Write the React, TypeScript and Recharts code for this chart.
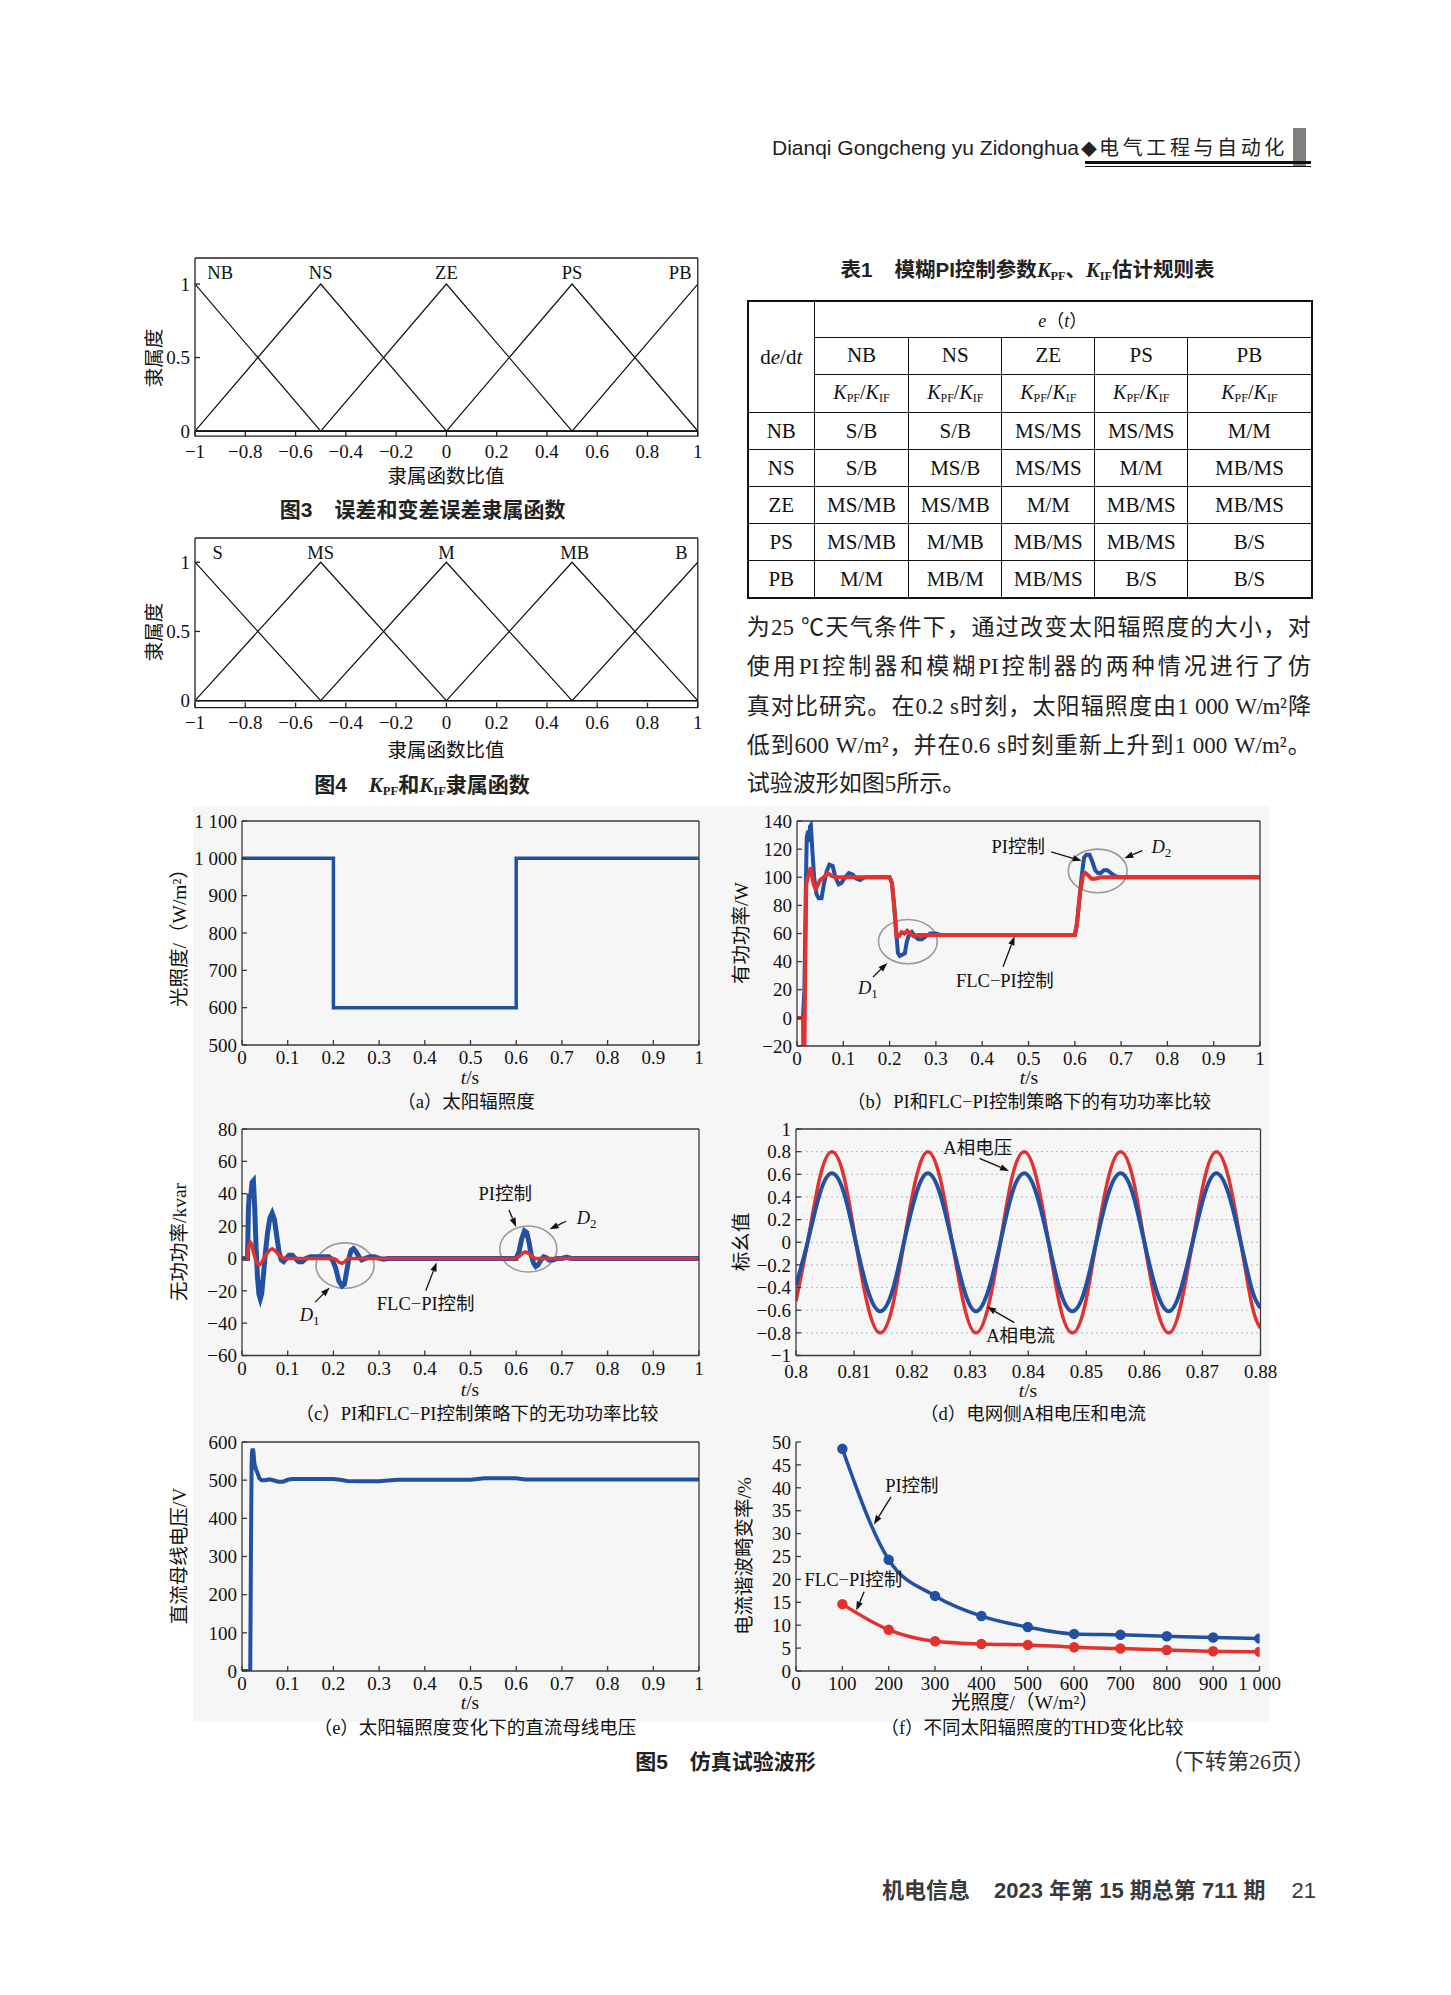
import React from 'react';
import {
  LineChart,
  Line,
  XAxis,
  YAxis,
  CartesianGrid,
  ReferenceLine,
  ReferenceDot,
  ReferenceArea,
} from 'recharts';

const SERIF = '"Liberation Serif", "Noto Sans CJK SC", serif';
const SANS = '"Liberation Sans", "Noto Sans CJK SC", sans-serif';
const BLUE = '#2250a2';
const RED = '#e3312e';

// ---- Fig.3 / Fig.4 membership functions
const mfX = [-1, -0.5, 0, 0.5, 1];
const errNB = [1, 0, 0, 0, 0];
const errNS = [0, 1, 0, 0, 0];
const errZE = [0, 0, 1, 0, 0];
const errPS = [0, 0, 0, 1, 0];
const errPB = [0, 0, 0, 0, 1];
const errNames = ['NB', 'NS', 'ZE', 'PS', 'PB'];
const gainS = [1, 0, 0, 0, 0];
const gainMS = [0, 1, 0, 0, 0];
const gainM = [0, 0, 1, 0, 0];
const gainMB = [0, 0, 0, 1, 0];
const gainB = [0, 0, 0, 0, 1];
const gainNames = ['S', 'MS', 'M', 'MB', 'B'];
const mfTicksX = [-1, -0.8, -0.6, -0.4, -0.2, 0, 0.2, 0.4, 0.6, 0.8, 1];
const mfTicksY = [0, 0.5, 1];

// ---- Table 1
const tableCols = ['NB', 'NS', 'ZE', 'PS', 'PB'];
const tableRows = ['NB', 'NS', 'ZE', 'PS', 'PB'];
const tableRules = [
  ['S/B', 'S/B', 'MS/MS', 'MS/MS', 'M/M'],
  ['S/B', 'MS/B', 'MS/MS', 'M/M', 'MB/MS'],
  ['MS/MB', 'MS/MB', 'M/M', 'MB/MS', 'MB/MS'],
  ['MS/MB', 'M/MB', 'MB/MS', 'MB/MS', 'B/S'],
  ['M/M', 'MB/M', 'MB/MS', 'B/S', 'B/S'],
];
const paragraph = [
  '为25 ℃天气条件下，通过改变太阳辐照度的大小，对',
  '使用PI控制器和模糊PI控制器的两种情况进行了仿',
  '真对比研究。在0.2 s时刻，太阳辐照度由1 000 W/m²降',
  '低到600 W/m²，并在0.6 s时刻重新上升到1 000 W/m²。',
  '试验波形如图5所示。',
];

// ---- Fig.5 (a) irradiance
const irradiance: [number, number][] = [[0, 1000], [0.2, 1000], [0.2, 600], [0.6, 600], [0.6, 1000], [1, 1000]];

// ---- Fig.5 (b) active power
const activePI: [number, number][] = [
  [0, 0], [0.013, 0], [0.016, 20], [0.019, 90], [0.021, 128], [0.024, 133], [0.026, 125], [0.028, 136], [0.03, 137],
  [0.033, 120], [0.037, 100], [0.042, 88], [0.047, 85], [0.053, 85], [0.058, 95], [0.064, 104], [0.07, 109],
  [0.077, 108], [0.083, 100], [0.09, 95], [0.096, 96], [0.104, 100], [0.112, 103], [0.12, 102], [0.128, 99],
  [0.136, 98], [0.146, 100], [0.16, 100], [0.2, 100], [0.205, 96], [0.21, 80], [0.214, 62], [0.218, 46], [0.222, 44],
  [0.228, 45], [0.233, 46], [0.237, 54], [0.242, 59], [0.248, 61], [0.255, 58], [0.262, 56], [0.27, 56], [0.278, 58],
  [0.288, 60], [0.3, 60], [0.31, 59], [0.6, 59], [0.604, 65], [0.61, 85], [0.615, 101], [0.62, 114], [0.625, 116],
  [0.632, 116], [0.638, 111], [0.644, 105], [0.65, 103], [0.656, 103], [0.663, 105], [0.67, 105], [0.678, 103],
  [0.686, 101], [0.695, 100], [0.71, 100], [1, 100],
];
const activeFLC: [number, number][] = [
  [0, 0], [0.013, 0], [0.0135, -25], [0.016, -25], [0.018, 40], [0.02, 95], [0.023, 100], [0.027, 104], [0.03, 107],
  [0.033, 100], [0.036, 95], [0.04, 92], [0.044, 94], [0.05, 98], [0.058, 100], [0.066, 103], [0.075, 101],
  [0.085, 100], [0.2, 100], [0.205, 96], [0.21, 78], [0.215, 58], [0.22, 58], [0.226, 61], [0.232, 60], [0.238, 62],
  [0.245, 60], [0.252, 58], [0.26, 59], [0.6, 59], [0.605, 68], [0.612, 90], [0.618, 102], [0.623, 103], [0.63, 101],
  [0.636, 99], [0.645, 99], [0.655, 100], [1, 100],
];

// ---- Fig.5 (c) reactive power
const reactivePI: [number, number][] = [
  [0, 0], [0.012, 0], [0.014, 30], [0.016, 40], [0.019, 38], [0.022, 47], [0.025, 48], [0.028, 30], [0.031, 5],
  [0.034, -12], [0.037, -22], [0.04, -25], [0.043, -22], [0.047, -10], [0.051, 3], [0.056, 16], [0.061, 25],
  [0.066, 28], [0.071, 24], [0.076, 14], [0.081, 4], [0.086, -1], [0.091, -2], [0.097, 0], [0.103, 2], [0.11, 2],
  [0.117, 0], [0.124, -2], [0.132, -2], [0.14, 0], [0.15, 1], [0.19, 1], [0.198, -1], [0.205, -6], [0.212, -14],
  [0.219, -17], [0.224, -16], [0.229, -8], [0.234, 0], [0.239, 5], [0.244, 6], [0.25, 4], [0.256, 1], [0.262, -1],
  [0.27, 0], [0.28, 1], [0.29, 1], [0.3, 0], [0.31, -0.5], [0.32, 0], [0.6, 0], [0.606, 4], [0.612, 12], [0.618, 17],
  [0.623, 16], [0.628, 10], [0.633, 2], [0.638, -3], [0.643, -5], [0.648, -4], [0.654, -1], [0.66, 1], [0.666, 0.5],
  [0.672, -1], [0.68, -1], [0.69, 0], [0.7, 0], [0.71, 0.8], [0.72, 0], [1, 0],
];
const reactiveFLC: [number, number][] = [
  [0, 0], [0.012, 0], [0.015, 8], [0.018, 10], [0.021, 9], [0.025, 4], [0.029, 0], [0.033, -3], [0.037, -4],
  [0.042, -3], [0.048, 0], [0.054, 3], [0.06, 5], [0.066, 6], [0.072, 5], [0.078, 3], [0.085, 1], [0.092, 0],
  [0.2, 0], [0.207, -1], [0.213, -2.5], [0.219, -3], [0.225, -2], [0.232, 0], [0.6, 0], [0.608, 1.5], [0.615, 3.5],
  [0.621, 4], [0.628, 3], [0.635, 1], [0.642, 0], [1, 0],
];

// ---- Fig.5 (d) grid-side phase A voltage / current (per unit)
const acTime = [
  0.8, 0.802, 0.8041, 0.8062, 0.8083, 0.8103, 0.8124, 0.8145, 0.8166, 0.8186, 0.8207, 0.8227, 0.8248, 0.8269,
  0.829, 0.831, 0.8331, 0.8352, 0.8372, 0.8393, 0.8414, 0.8435, 0.8455, 0.8476, 0.8497, 0.8517, 0.8538, 0.8559,
  0.858, 0.86, 0.8621, 0.8642, 0.8662, 0.8683, 0.8704, 0.8724, 0.8745, 0.8766, 0.8786, 0.88,
];
const acVoltage = [
  -0.52, 0, 0.57, 0.8, 0.57, 0, -0.57, -0.8, -0.57, 0, 0.57, 0.8, 0.57, 0, -0.57, -0.8, -0.57, 0, 0.57, 0.8,
  0.57, 0, -0.57, -0.8, -0.57, 0, 0.57, 0.8, 0.57, 0, -0.57, -0.8, -0.57, 0, 0.57, 0.8, 0.57, 0, -0.57, -0.76,
];
const acCurrent = [
  -0.38, 0, 0.43, 0.61, 0.43, 0, -0.43, -0.61, -0.43, 0, 0.43, 0.61, 0.43, 0, -0.43, -0.61, -0.43, 0, 0.43, 0.61,
  0.43, 0, -0.43, -0.61, -0.43, 0, 0.43, 0.61, 0.43, 0, -0.43, -0.61, -0.43, 0, 0.43, 0.61, 0.43, 0, -0.43, -0.58,
];

// ---- Fig.5 (e) DC bus voltage
const dcBus: [number, number][] = [
  [0, 0], [0.018, 0], [0.0195, 300], [0.021, 540], [0.022, 575], [0.0235, 582], [0.025, 575], [0.027, 545],
  [0.03, 530], [0.034, 518], [0.038, 505], [0.043, 500], [0.05, 500], [0.06, 502], [0.07, 499], [0.08, 496],
  [0.09, 496], [0.1, 501], [0.11, 503], [0.2, 503], [0.215, 501], [0.23, 498], [0.26, 497], [0.3, 497], [0.32, 499],
  [0.34, 501], [0.5, 501], [0.515, 503], [0.53, 505], [0.6, 505], [0.62, 502], [0.64, 502], [1, 502],
];

// ---- Fig.5 (f) THD vs irradiance
const thdIrr = [100, 200, 300, 400, 500, 600, 700, 800, 900, 1000];
const thdPI = [48.5, 24.3, 16.4, 12.0, 9.6, 8.1, 7.9, 7.6, 7.3, 7.1];
const thdFLC = [14.6, 9.0, 6.5, 5.9, 5.7, 5.2, 4.9, 4.6, 4.3, 4.2];

const tUnit = [0, 0.1, 0.2, 0.3, 0.4, 0.5, 0.6, 0.7, 0.8, 0.9, 1];
const acTicksX = [0.8, 0.81, 0.82, 0.83, 0.84, 0.85, 0.86, 0.87, 0.88];

const pts = (a: [number, number][]) => a.map(([x, y]) => ({ x, y }));
const zipPts = (xs: number[], ys: number[]) => xs.map((x, i) => ({ x, y: ys[i] }));

const fmt = (v: number) => {
  const a = Math.abs(v);
  const s = a >= 1000 ? String(a).replace(/(\d)(\d{3})$/, '$1 $2') : String(a);
  return (v < 0 ? '\u2212' : '') + s;
};

const ArrowShape = (p: any) => {
  const { x1, y1, x2, y2 } = p;
  const a = Math.atan2(y2 - y1, x2 - x1);
  const L = 9;
  const W = 3.2;
  const bx = x2 - L * Math.cos(a);
  const by = y2 - L * Math.sin(a);
  const pts = `${x2},${y2} ${bx - W * Math.sin(a)},${by + W * Math.cos(a)} ${bx + W * Math.sin(a)},${by - W * Math.cos(a)}`;
  return (
    <g>
      <line x1={x1} y1={y1} x2={bx} y2={by} stroke="#111" strokeWidth={1.3} />
      <polygon points={pts} fill="#111" />
    </g>
  );
};

const EllipseShape = (p: any) => (
  <ellipse
    cx={p.x + p.width / 2}
    cy={p.y + p.height / 2}
    rx={Math.abs(p.width) / 2}
    ry={Math.abs(p.height) / 2}
    fill="none"
    stroke="#9a9a9a"
    strokeWidth={1.6}
  />
);

const note = (key: string, x: number, y: number, content: React.ReactNode, size = 18.5) => (
  <ReferenceDot
    key={key}
    x={x}
    y={y}
    r={1}
    ifOverflow="visible"
    shape={(p: any) => (
      <text x={p.cx} y={p.cy} textAnchor="middle" dominantBaseline="central" fontSize={size} fontFamily={SERIF} fill="#111">
        {content}
      </text>
    )}
  />
);

const arrow = (key: string, x1: number, y1: number, x2: number, y2: number) => (
  <ReferenceLine key={key} segment={[{ x: x1, y: y1 }, { x: x2, y: y2 }]} ifOverflow="visible" shape={ArrowShape} />
);

const ring = (key: string, xa: number, xb: number, ya: number, yb: number) => (
  <ReferenceArea key={key} x1={xa} x2={xb} y1={ya} y2={yb} ifOverflow="visible" shape={EllipseShape} />
);

const Dsub = (n: string) => (
  <>
    <tspan fontStyle="italic">D</tspan>
    <tspan fontSize={13} dy={5}>{n}</tspan>
  </>
);

type PanelProps = {
  box: [number, number, number, number];
  xDomain: [number, number];
  yDomain: [number, number];
  xTicks: number[];
  yTicks: number[];
  frame?: boolean;
  grid?: boolean;
  axisColor?: string;
  fontSize?: number;
  xGap?: number;
  children?: React.ReactNode;
};

function Panel({ box, xDomain, yDomain, xTicks, yTicks, frame = true, grid = false, axisColor = '#3a3a3a', fontSize = 19, xGap = 6, children }: PanelProps) {
  const [x0, y0, x1, y1] = box;
  const L = 90, R = 34, T = 12, B = 40, tk = 5;
  const tickStyle = { fontSize, fill: '#111', fontFamily: SERIF };
  const line = { stroke: axisColor, strokeWidth: 1.3 };
  // the frame axes take 1px each, so the margins give that pixel back
  const f = frame ? 1 : 0;
  return (
    <div style={{ position: 'absolute', left: x0 - L, top: y0 - T }}>
      <LineChart width={x1 - x0 + L + R} height={y1 - y0 + T + B} margin={{ top: T - f, right: R - f, bottom: 0, left: 0 }}>
        {grid && <CartesianGrid vertical={false} stroke="#b8b8b8" strokeDasharray="2 3" />}
        <XAxis type="number" dataKey="x" domain={xDomain} ticks={xTicks} allowDataOverflow interval={0} height={B}
          tickSize={-tk} tickMargin={tk + xGap} tickFormatter={fmt} tick={tickStyle} axisLine={line} tickLine={line} />
        <YAxis type="number" domain={yDomain} ticks={yTicks} allowDataOverflow interval={0} width={L}
          tickSize={-tk} tickMargin={tk + 5} tickFormatter={fmt} tick={tickStyle} axisLine={line} tickLine={line} />
        {frame && (
          <XAxis xAxisId="top" orientation="top" type="number" domain={xDomain} ticks={xTicks} allowDataOverflow
            interval={0} height={1} tickSize={-tk} tick={false} axisLine={line} tickLine={line} />
        )}
        {frame && (
          <YAxis yAxisId="right" orientation="right" type="number" domain={yDomain} ticks={yTicks} allowDataOverflow
            interval={0} width={1} tickSize={-tk} tick={false} axisLine={line} tickLine={line} />
        )}
        {children}
      </LineChart>
    </div>
  );
}

type TxtProps = {
  x: number;
  y: number;
  size?: number;
  font?: string;
  weight?: number;
  color?: string;
  rotate?: boolean;
  anchor?: 'left' | 'center';
  style?: React.CSSProperties;
  children?: React.ReactNode;
};

function Txt({ x, y, size = 19.5, font = SERIF, weight = 400, color = '#111', rotate = false, anchor = 'center', style, children }: TxtProps) {
  const tx = anchor === 'center' ? '-50%' : '0';
  return (
    <div
      style={{
        position: 'absolute',
        left: x,
        top: y,
        transform: `translate(${tx}, -50%)${rotate ? ' rotate(-90deg)' : ''}`,
        fontSize: size,
        fontFamily: font,
        fontWeight: weight,
        color,
        whiteSpace: 'nowrap',
        lineHeight: 1.1,
        ...style,
      }}
    >
      {children}
    </div>
  );
}

const Kpf = ({ sub }: { sub: string }) => (
  <span>
    <i>K</i>
    <sub style={{ fontSize: '0.6em', verticalAlign: '-0.25em' }}>{sub}</sub>
  </span>
);

const mfLine = (key: string, vals: number[]) => (
  <Line key={key} data={zipPts(mfX, vals)} dataKey="y" type="linear" stroke="#111" strokeWidth={1.2} dot={false} isAnimationActive={false} />
);

const colW = [66.6, 94.4, 93.2, 92.9, 92.9, 124];
const rowH = [36.5, 36.8, 38.6, 36.9, 36.8, 37.2, 36.9, 37.6];
const cell: React.CSSProperties = { border: '1px solid #111', textAlign: 'center', padding: 0 };
const capSize = 18.5;

export default function App() {
  const errLabelX = [-0.9, -0.5, 0, 0.5, 0.93];
  const gainLabelX = [-0.91, -0.5, 0, 0.51, 0.935];
  return (
    <div style={{ position: 'absolute', left: 0, top: 0, width: 1451, height: 1995, background: '#fff', overflow: 'hidden' }}>
      {/* header */}
      <div style={{ position: 'absolute', left: 772, top: 147, transform: 'translateY(-50%)', whiteSpace: 'nowrap', color: '#222', lineHeight: 1 }}>
        <span style={{ fontFamily: SANS, fontSize: 21 }}>Dianqi Gongcheng yu Zidonghua</span>
        <span style={{ fontFamily: SANS, fontSize: 16, margin: '0 2px' }}>◆</span>
        <span style={{ fontFamily: '"Noto Sans CJK SC", sans-serif', fontSize: 20, letterSpacing: 3.6 }}>电气工程与自动化</span>
      </div>
      <div style={{ position: 'absolute', left: 1293, top: 128, width: 13, height: 38, background: '#7f7f7f' }} />
      <div style={{ position: 'absolute', left: 1085, top: 161, width: 226, height: 3, background: '#111' }} />
      <div style={{ position: 'absolute', left: 1085, top: 166, width: 226, height: 1, background: '#111' }} />

      {/* Fig 3 */}
      <Panel box={[194.7, 257.5, 697.5, 435.7]} xDomain={[-1, 1]} yDomain={[-0.035, 1.177]} xTicks={mfTicksX} yTicks={mfTicksY}
        axisColor="#222" fontSize={19} xGap={8}>
        {[mfLine('nb', errNB), mfLine('ns', errNS), mfLine('ze', errZE), mfLine('ps', errPS), mfLine('pb', errPB)]}
        {errNames.map((n, i) => note('e' + n, errLabelX[i], 1.075, n, 18.5))}
      </Panel>
      <Txt x={155} y={358} rotate>隶属度</Txt>
      <Txt x={446} y={477}>隶属函数比值</Txt>
      <Txt x={422.6} y={510} font={SANS} weight={700} size={21} color="#222">
        图3<span style={{ marginLeft: 22 }}>误差和变差误差隶属函数</span>
      </Txt>

      {/* Fig 4 */}
      <Panel box={[194.7, 537.8, 697.5, 707.4]} xDomain={[-1, 1]} yDomain={[-0.05, 1.175]} xTicks={mfTicksX} yTicks={mfTicksY}
        axisColor="#222" fontSize={19} xGap={8}>
        {[mfLine('s', gainS), mfLine('ms', gainMS), mfLine('m', gainM), mfLine('mb', gainMB), mfLine('b', gainB)]}
        {gainNames.map((n, i) => note('g' + n, gainLabelX[i], 1.065, n, 18.5))}
      </Panel>
      <Txt x={155} y={632} rotate>隶属度</Txt>
      <Txt x={446} y={751}>隶属函数比值</Txt>
      <Txt x={422} y={786} font={SANS} weight={700} size={21} color="#222">
        图4
        <span style={{ marginLeft: 22, fontFamily: SERIF }}>
          <b><Kpf sub="PF" /></b>
        </span>
        和
        <span style={{ fontFamily: SERIF }}>
          <b><Kpf sub="IF" /></b>
        </span>
        隶属函数
      </Txt>

      {/* Table 1 */}
      <Txt x={1027.6} y={271} font={SANS} weight={700} size={20.5} color="#222">
        表1<span style={{ marginLeft: 22 }}>模糊PI控制参数</span>
        <span style={{ fontFamily: SERIF }}><Kpf sub="PF" /></span>、
        <span style={{ fontFamily: SERIF }}><Kpf sub="IF" /></span>估计规则表
      </Txt>
      <table
        style={{
          position: 'absolute',
          left: 746.7,
          top: 299.9,
          width: 564,
          borderCollapse: 'collapse',
          border: '2px solid #111',
          fontFamily: SERIF,
          fontSize: 21,
          color: '#111',
          tableLayout: 'fixed',
        }}
      >
        <colgroup>
          {colW.map((w, i) => <col key={i} style={{ width: w }} />)}
        </colgroup>
        <tbody>
          <tr style={{ height: rowH[0] }}>
            <td rowSpan={3} style={cell}>d<i>e</i>/d<i>t</i></td>
            <td colSpan={5} style={{ ...cell, fontSize: 18 }}><i>e</i>（<i>t</i>）</td>
          </tr>
          <tr style={{ height: rowH[1] }}>
            {tableCols.map((c) => <td key={c} style={cell}>{c}</td>)}
          </tr>
          <tr style={{ height: rowH[2] }}>
            {tableCols.map((c) => (
              <td key={c} style={{ ...cell, fontSize: 20 }}>
                <Kpf sub="PF" />/<Kpf sub="IF" />
              </td>
            ))}
          </tr>
          {tableRows.map((r, i) => (
            <tr key={r} style={{ height: rowH[3 + i] }}>
              <td style={cell}>{r}</td>
              {tableRules[i].map((v, j) => <td key={j} style={cell}>{v}</td>)}
            </tr>
          ))}
        </tbody>
      </table>

      {/* paragraph */}
      {paragraph.map((ln, i) => (
        <div
          key={i}
          style={{
            position: 'absolute',
            left: 746.7,
            top: [626.9, 665.5, 705.9, 744.5, 783.1][i],
            width: 564,
            transform: 'translateY(-50%)',
            fontFamily: SERIF,
            fontSize: 23,
            lineHeight: 1,
            color: '#222',
            whiteSpace: 'nowrap',
            textAlign: i < paragraph.length - 1 ? 'justify' : 'left',
            textAlignLast: i < paragraph.length - 1 ? 'justify' : 'left',
            letterSpacing: i === 2 ? -0.4 : 0,
          }}
        >
          {ln}
        </div>
      ))}

      {/* Fig 5 backdrop */}
      <div style={{ position: 'absolute', left: 193, top: 806, width: 1077, height: 916, background: '#f6f6f6' }} />

      {/* (a) */}
      <Panel box={[241.8, 821, 698.8, 1045]} xDomain={[0, 1]} yDomain={[500, 1100]} xTicks={tUnit}
        yTicks={[500, 600, 700, 800, 900, 1000, 1100]}>
        <Line data={pts(irradiance)} dataKey="y" type="linear" stroke={BLUE} strokeWidth={3.5} dot={false} isAnimationActive={false} />
      </Panel>
      <Txt x={180} y={933} rotate>光照度/（W/m²）</Txt>
      <Txt x={470} y={1078}><i>t</i>/s</Txt>
      <Txt x={466} y={1102} size={capSize}>（a）太阳辐照度</Txt>

      {/* (b) */}
      <Panel box={[797, 821, 1260, 1046]} xDomain={[0, 1]} yDomain={[-20, 140]} xTicks={tUnit}
        yTicks={[-20, 0, 20, 40, 60, 80, 100, 120, 140]}>
        <Line data={pts(activePI)} dataKey="y" type="linear" stroke={BLUE} strokeWidth={4} dot={false} isAnimationActive={false} />
        <Line data={pts(activeFLC)} dataKey="y" type="linear" stroke={RED} strokeWidth={4} dot={false} isAnimationActive={false} />
        {ring('b1', 0.176, 0.303, 38.5, 70)}
        {ring('b2', 0.586, 0.713, 89, 120)}
        {note('bpi', 0.478, 121.7, 'PI控制')}
        {arrow('bpa', 0.549, 118, 0.615, 111.7)}
        {note('bd2', 0.787, 121.7, Dsub('2'))}
        {arrow('bd2a', 0.746, 119, 0.707, 113.5)}
        {note('bd1', 0.153, 21, Dsub('1'))}
        {arrow('bd1a', 0.164, 29, 0.195, 39)}
        {note('bflc', 0.449, 26, 'FLC−PI控制')}
        {arrow('bfa', 0.445, 36.4, 0.47, 58)}
      </Panel>
      <Txt x={742} y={933} rotate>有功功率/W</Txt>
      <Txt x={1029} y={1078}><i>t</i>/s</Txt>
      <Txt x={1029} y={1102} size={capSize}>（b）PI和FLC−PI控制策略下的有功功率比较</Txt>

      {/* (c) */}
      <Panel box={[241.8, 1129, 698.8, 1355.5]} xDomain={[0, 1]} yDomain={[-60, 80]} xTicks={tUnit}
        yTicks={[-60, -40, -20, 0, 20, 40, 60, 80]}>
        <Line data={pts(reactivePI)} dataKey="y" type="linear" stroke={BLUE} strokeWidth={5} dot={false} isAnimationActive={false} />
        <Line data={pts(reactiveFLC)} dataKey="y" type="linear" stroke={RED} strokeWidth={3.5} dot={false} isAnimationActive={false} />
        {ring('c1', 0.162, 0.289, -18.4, 9.6)}
        {ring('c2', 0.564, 0.689, -8.4, 20)}
        {note('cpi', 0.576, 40, 'PI控制')}
        {arrow('cpa', 0.584, 30, 0.6, 19.5)}
        {note('cd2', 0.754, 25, Dsub('2'))}
        {arrow('cd2a', 0.709, 23, 0.673, 18)}
        {note('cd1', 0.148, -35, Dsub('1'))}
        {arrow('cd1a', 0.16, -27, 0.192, -18)}
        {note('cflc', 0.402, -28, 'FLC−PI控制')}
        {arrow('cfa', 0.402, -20, 0.426, -2.5)}
      </Panel>
      <Txt x={180} y={1242} rotate>无功功率/kvar</Txt>
      <Txt x={470} y={1390}><i>t</i>/s</Txt>
      <Txt x={477} y={1414} size={capSize}>（c）PI和FLC−PI控制策略下的无功功率比较</Txt>

      {/* (d) */}
      <Panel box={[795.5, 1129, 1260, 1355.5]} xDomain={[0.8, 0.88]} yDomain={[-1, 1]} xTicks={acTicksX}
        yTicks={[-1, -0.8, -0.6, -0.4, -0.2, 0, 0.2, 0.4, 0.6, 0.8, 1]} grid xGap={9}>
        <Line data={zipPts(acTime, acVoltage)} dataKey="y" type="natural" stroke={RED} strokeWidth={3.5} dot={false} isAnimationActive={false} />
        <Line data={zipPts(acTime, acCurrent)} dataKey="y" type="natural" stroke={BLUE} strokeWidth={4} dot={false} isAnimationActive={false} />
        {note('dv', 0.8313, 0.83, 'A相电压')}
        {arrow('dva', 0.8316, 0.74, 0.8367, 0.63)}
        {note('di', 0.8387, -0.83, 'A相电流')}
        {arrow('dia', 0.8376, -0.71, 0.8329, -0.57)}
      </Panel>
      <Txt x={742} y={1242} rotate>标幺值</Txt>
      <Txt x={1028} y={1391}><i>t</i>/s</Txt>
      <Txt x={1033} y={1414} size={capSize}>（d）电网侧A相电压和电流</Txt>

      {/* (e) */}
      <Panel box={[241.8, 1442, 698.8, 1671]} xDomain={[0, 1]} yDomain={[0, 600]} xTicks={tUnit}
        yTicks={[0, 100, 200, 300, 400, 500, 600]}>
        <Line data={pts(dcBus)} dataKey="y" type="linear" stroke={BLUE} strokeWidth={4} dot={false} isAnimationActive={false} />
      </Panel>
      <Txt x={180} y={1556} rotate>直流母线电压/V</Txt>
      <Txt x={470} y={1703}><i>t</i>/s</Txt>
      <Txt x={475} y={1728} size={capSize}>（e）太阳辐照度变化下的直流母线电压</Txt>

      {/* (f) */}
      <Panel box={[795.5, 1442, 1259, 1671]} xDomain={[0, 1000]} yDomain={[0, 50]}
        xTicks={[0, 100, 200, 300, 400, 500, 600, 700, 800, 900, 1000]}
        yTicks={[0, 5, 10, 15, 20, 25, 30, 35, 40, 45, 50]} frame={false}>
        <Line data={zipPts(thdIrr, thdPI)} dataKey="y" type="monotone" stroke={BLUE} strokeWidth={3.5}
          dot={{ r: 3.5, fill: BLUE, stroke: BLUE }} isAnimationActive={false} />
        <Line data={zipPts(thdIrr, thdFLC)} dataKey="y" type="monotone" stroke={RED} strokeWidth={3.5}
          dot={{ r: 3.5, fill: RED, stroke: RED }} isAnimationActive={false} />
        {note('fpi', 250, 40.4, 'PI控制')}
        {arrow('fpa', 205, 38, 168, 32)}
        {note('fflc', 124, 19.9, 'FLC−PI控制')}
        {arrow('ffa', 147, 17.3, 130, 13.2)}
      </Panel>
      <Txt x={745} y={1556} rotate>电流谐波畸变率/%</Txt>
      <Txt x={1025} y={1703}>光照度/（W/m²）</Txt>
      <Txt x={1032} y={1728} size={capSize}>（f）不同太阳辐照度的THD变化比较</Txt>

      <Txt x={725.5} y={1761.5} font={SANS} weight={700} size={21} color="#222">
        图5<span style={{ marginLeft: 22 }}>仿真试验波形</span>
      </Txt>
      <Txt x={1238} y={1761.5} size={22} color="#333">（下转第26页）</Txt>

      {/* footer */}
      <div style={{ position: 'absolute', left: 882, top: 1891, transform: 'translateY(-50%)', whiteSpace: 'nowrap', fontFamily: SANS, fontSize: 22, fontWeight: 700, color: '#3a3a3a', lineHeight: 1 }}>
        <span>机电信息</span>
        <span style={{ marginLeft: 24 }}>2023 年第 15 期总第 711 期</span>
        <span style={{ marginLeft: 26, fontWeight: 400 }}>21</span>
      </div>
    </div>
  );
}
